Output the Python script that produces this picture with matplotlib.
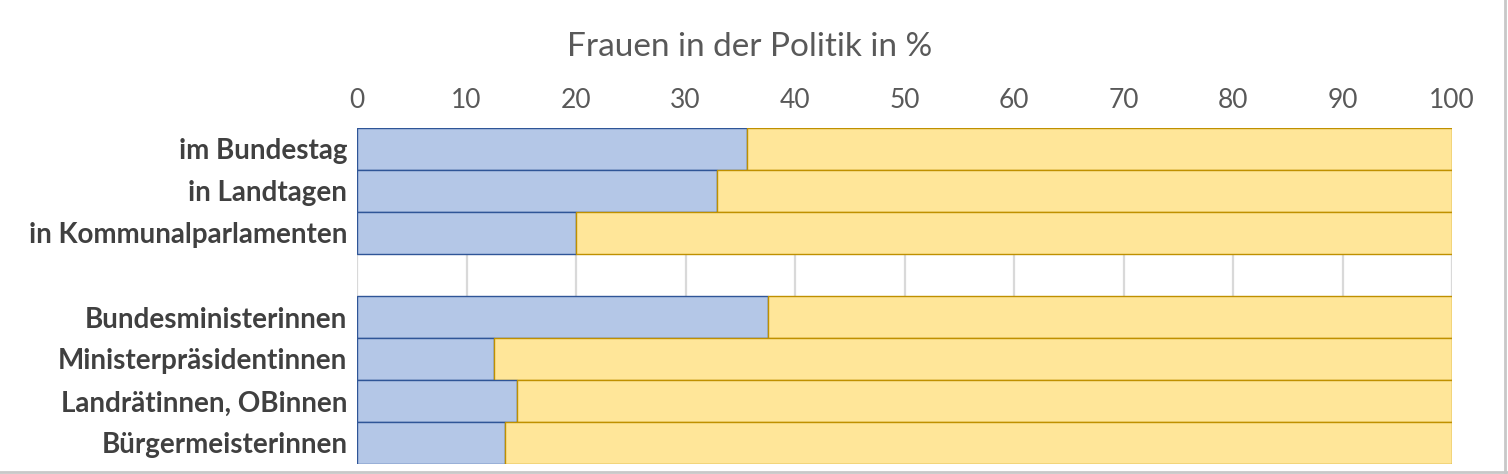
import numpy as np
import matplotlib.pyplot as plt
from matplotlib.lines import Line2D

# ----------------------------
# Data
# ----------------------------
categories = ["im Bundestag", "in Landtagen", "in Kommunalparlamenten", "",
              "Bundesministerinnen", "Ministerpräsidentinnen",
              "Landrätinnen, OBinnen", "Bürgermeisterinnen"]
women = [35.6, 32.9, 20.0, None, 37.5, 12.5, 14.6, 13.5]
ticks = [0, 10, 20, 30, 40, 50, 60, 70, 80, 90, 100]

plt.rcParams['font.family'] = ['Lato', 'DejaVu Sans']

fig = plt.figure(figsize=(15.08, 4.74), dpi=100)
ax = fig.add_axes([357/1508, 1 - 464/474, (1452 - 357)/1508, (464 - 128)/474])

pos = np.arange(len(categories))
for i, w in enumerate(women):
    if w is None:
        continue
    ax.barh(pos[i], w, height=1.0, color="#B4C7E7", edgecolor="#2F5597", linewidth=1.0, zorder=3)
    ax.barh(pos[i], 100 - w, left=w, height=1.0, color="#FFE699", edgecolor="#BF9000", linewidth=1.0, zorder=3)

ax.set_xlim(0, 100)
ax.set_ylim(len(categories) - 0.5, -0.5)
ax.set_xticks(ticks)
ax.xaxis.tick_top()
ax.tick_params(axis="x", length=0, pad=11, labelsize=19, labelcolor="#595959")
ax.tick_params(axis="y", length=0, pad=7)
ax.set_yticks(pos)
ax.set_yticklabels(categories, fontsize=20, fontweight="bold", color="#404040")
ax.grid(axis="x", color="#D9D9D9", linewidth=1.6, zorder=0)
ax.set_axisbelow(True)
for s in ax.spines.values():
    s.set_visible(False)

fig.text(750/1508, 1 - 47/474, "Frauen in der Politik in %", ha="center", va="center",
         fontsize=24, color="#595959")

# thin frame at right and bottom edges
fig.add_artist(Line2D([1505/1508, 1505/1508], [0, 1], color="#C8C8C8", linewidth=2, transform=fig.transFigure))
fig.add_artist(Line2D([0, 1], [2/474, 2/474], color="#C8C8C8", linewidth=2, transform=fig.transFigure))

plt.savefig("out.png", dpi=100)
plt.close()
